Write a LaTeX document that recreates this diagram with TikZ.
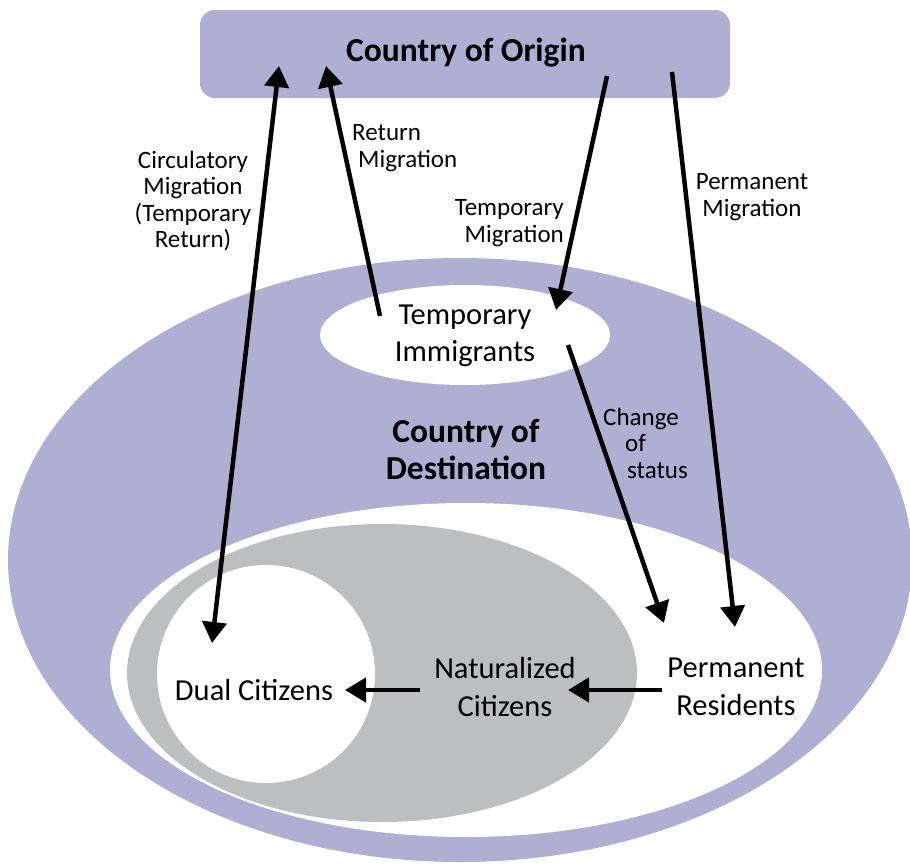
\documentclass[tikz,border=0pt]{standalone}
\usepackage{fontspec}
\setmainfont{Carlito}
\usetikzlibrary{arrows.meta}
\definecolor{lav}{HTML}{ADAFD3}
\definecolor{grayfill}{HTML}{BDBEC0}
\begin{document}
\begin{tikzpicture}[x=1pt,y=-1pt,
  >={Triangle[length=21pt,width=24pt]},
  flow/.style={line width=4.5pt,->},
  twoway/.style={line width=4.5pt,<->},
  lbl/.style={font=\fontsize{25}{26.5}\selectfont, align=center, inner sep=0pt},
  big/.style={font=\fontsize{30.5}{37.5}\selectfont, align=center, inner sep=0pt},
  title/.style={font=\bfseries\fontsize{33.5}{37}\selectfont, align=center, inner sep=0pt}]
\useasboundingbox (0,0) rectangle (910,863);
\clip (0,0) rectangle (910,863);
% regions
\fill[lav] (460,560) ellipse [x radius=452, y radius=302];
\fill[white] (466,670) ellipse [x radius=356, y radius=167];
\fill[grayfill] (382,673) ellipse [x radius=255, y radius=149];
\fill[white] (266,674) circle [radius=109];
\fill[white] (465,335) ellipse [x radius=145, y radius=50];
\fill[lav, rounded corners=15pt] (200,10) rectangle (730,98);
% texts
\node[title] (origin) at (466,53) {Country of Origin};
\node[title] (dest) at (466,449) {Country of\\Destination};
\node[big] (temp) at (465,336) {Temporary\\Immigrants};
\node[big] (dual) at (254,690) {Dual Citizens};
\node[big] (nat) at (505,687) {Naturalized\\Citizens};
\node[big] (perm) at (736,687) {Permanent\\Residents};
\node[lbl] (circ) at (193,201) {Circulatory\\Migration\\(Temporary\\Return)};
\node[lbl, align=left, anchor=west] (ret) at (352,148) {Return\\\hspace*{6pt}Migration};
\node[lbl, align=right, anchor=east] (tmig) at (564,223) {Temporary\\Migration};
\node[lbl] (pmig) at (752,197) {Permanent\\Migration};
\node[lbl, align=left, anchor=west] (chg) at (603,443) {Change\\\hspace*{22pt}of\\\hspace*{24pt}status};
% connector ends
\coordinate (c1) at (279,66);
\coordinate (c2) at (212,643);
\coordinate (r1) at (380,316);
\coordinate (r2) at (326,66);
\coordinate (t1) at (607,76);
\coordinate (t2) at (556,310);
\coordinate (p1) at (672,72);
\coordinate (p2) at (735,627);
\coordinate (s1) at (568,345);
\coordinate (s2) at (664,623);
\coordinate (n1) at (662,690);
\coordinate (n2) at (568,690);
\coordinate (d1) at (420,690);
\coordinate (d2) at (345,690);
% connectors
\draw[twoway] (c2) -- (c1);
\draw[flow] (r1) -- (r2);
\draw[flow] (t1) -- (t2);
\draw[flow] (p1) -- (p2);
\draw[flow] (s1) -- (s2);
\draw[flow] (n1) -- (n2);
\draw[flow] (d1) -- (d2);
\end{tikzpicture}
\end{document}
